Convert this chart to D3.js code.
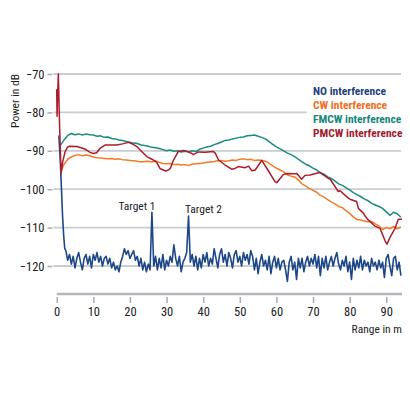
<!DOCTYPE html>
<html>
<head>
<meta charset="utf-8">
<script src="https://cdn.jsdelivr.net/npm/d3@7"></script>
<style>
html,body{margin:0;padding:0;background:#fff;}
svg{display:block;}
text{font-family:"Liberation Sans Narrow","Roboto Condensed","DejaVu Sans Condensed","Arial Narrow",sans-serif;}
</style>
</head>
<body>
<svg id="chart" width="410" height="410"></svg>
<script>
// ---------------- DATA ----------------
const seriesNames = ["NO interference", "CW interference", "FMCW interference", "PMCW interference"];
const xTicks = [0, 10, 20, 30, 40, 50, 60, 70, 80, 90];
const yTicks = [-70, -80, -90, -100, -110, -120];

// NO interference: initial fall-off (range m, dB)
const noHead = [[0.6, -86], [1.0, -93], [1.3, -100], [1.6, -107], [1.9, -112], [2.2, -115.5]];
// NO interference: noise floor sampled every 0.5 m starting at 2.5 m
const noStart = 2.5, noStep = 0.5;
const noValues = [
  -116, -118.5, -117, -119.5, -117.5, -120.5, -118, -116.5, -119, -121,
  -118, -117, -119.5, -117.5, -120.5, -117, -118.5, -116.5, -119, -117.5,
  -120, -118, -117.5, -119.5, -118, -120.5, -119, -121, -120, -121.5,
  -119, -117.5, -115.5, -117, -116, -118, -117, -116, -118.5, -117.5,
  -120, -118, -121, -119, -121.5, -119.5, -121, -106, -120, -117.5,
  -121, -118, -120.5, -117, -121, -118.5, -120, -117.5, -119, -114.5,
  -118, -120, -117.5, -121.5, -119, -118, -116.5, -107, -119, -117,
  -120, -117.5, -121, -118, -120.5, -117, -119, -116.5, -120, -118,
  -119.5, -115.5, -118, -120.5, -117, -115.5, -119, -117, -120, -116.5,
  -118, -120.5, -117, -116, -119, -117.5, -120, -116.5, -118.5, -117,
  -119.5, -116, -117.5, -121, -118, -122, -119, -117, -120, -118.5,
  -121, -117.5, -122, -119, -117.5, -120.5, -118, -121, -119, -118.5,
  -121, -124, -119, -117.5, -121, -119, -123.5, -118, -120.5, -118,
  -121.5, -119, -117.5, -120, -118, -119.5, -117, -120.5, -117.5, -122.5,
  -118, -120.5, -117.5, -121, -119, -117.5, -120, -118, -116.5, -119.5,
  -121, -118.5, -120, -117.5, -121.5, -119, -123.5, -118, -121, -118.5,
  -120.5, -117.5, -121, -118.5, -120, -119, -121.5, -118, -120, -119,
  -121, -118.5, -120.5, -119, -123, -118, -117, -120, -122.5, -118,
  -117.5, -121, -119, -122.5
];

// CW and FMCW: sampled every 1 m starting at 1 m
const cwStart = 1, fmStart = 1, gridStep = 1;
const cwValues = [
  -95.8, -93.5, -92.2, -91.6, -91.2, -91.0, -91.3, -91.1, -91.3, -91.6,
  -91.8, -91.9, -92.0, -92.1, -92.0, -92.2, -92.1, -92.3, -92.4, -92.5,
  -92.6, -92.7, -92.9, -92.8, -92.7, -92.9, -92.6, -93.0, -93.3, -93.4,
  -93.3, -93.6, -93.5, -93.7, -93.6, -93.8, -93.5, -93.4, -93.3, -93.2,
  -93.0, -92.9, -92.8, -92.6, -92.5, -92.7, -92.6, -92.4, -92.5, -92.2,
  -92.1, -92.3, -92.2, -92.5, -92.4, -92.5, -92.7, -93.3, -93.9, -94.5,
  -95.0, -95.5, -96.3, -96.6, -96.8, -97.6, -98.6, -99.2, -99.8, -100.3,
  -100.8, -101.6, -102.0, -102.7, -103.3, -103.8, -104.5, -104.8, -105.6, -106.3,
  -107.2, -107.9, -108.0, -108.3, -108.5, -108.4, -109.0, -109.6, -110.5, -110.0,
  -110.3, -109.7, -110.3, -109.8
];
const fmValues = [
  -88.6, -87.2, -86.0, -85.5, -85.8, -85.6, -85.9, -85.6, -85.8, -85.9,
  -86.2, -86.1, -86.5, -86.4, -86.8, -86.9, -87.2, -87.3, -87.6, -87.8,
  -88.0, -88.1, -88.5, -88.6, -88.8, -89.1, -89.2, -89.4, -89.7, -90.0,
  -89.8, -90.1, -90.0, -90.3, -90.1, -90.3, -90.0, -90.2, -89.6, -89.3,
  -89.0, -88.8, -88.4, -88.1, -87.7, -87.3, -87.2, -86.9, -86.7, -86.5,
  -86.4, -86.1, -86.0, -85.9, -86.2, -86.5, -86.9, -87.6, -88.3, -89.0,
  -89.5, -90.0, -90.6, -91.0, -91.5, -92.2, -92.9, -93.5, -93.9, -94.5,
  -95.0, -95.7, -96.1, -96.8, -97.2, -97.9, -98.6, -99.0, -99.6, -100.2,
  -100.9, -101.4, -101.9, -102.5, -103.0, -103.7, -104.1, -104.5, -105.0, -105.9,
  -106.8, -106.0, -106.4, -107.3
];

// PMCW interference: (range m, dB)
const pmcwPoints = [
  [0, -74], [0.1, -81], [0.2, -77], [0.45, -70], [0.6, -76], [0.8, -84], [1.0, -90], [1.2, -96],
  [1.6, -93], [2.3, -90.2], [3.0, -89], [3.6, -88.8], [5.5, -88.9], [7.3, -89.4], [8.2, -89.8],
  [9.1, -90.4], [10.0, -90.7], [10.9, -90.5], [11.8, -89.4], [13.2, -88.5], [15.5, -88.5],
  [16.4, -88.5], [18, -88.2], [19.6, -87.8], [20.9, -88.3], [21.9, -88.9], [22.8, -89.8],
  [24.6, -91.5], [26.4, -92.4], [27.3, -93], [28.2, -94.6], [29.1, -95], [29.8, -95.3],
  [30.5, -95], [31.0, -94.6], [31.9, -92.4], [33.2, -90.2], [34.6, -89.9], [35.5, -90.1],
  [36.9, -90.7], [37.3, -91], [38.7, -90.3], [40.5, -90.4], [42.8, -90.2], [43.3, -90.6],
  [44.2, -92.4], [46, -93.7], [47.8, -94.8], [48.7, -94.6], [49.6, -94.1], [51.4, -94.4],
  [52.4, -94], [53.3, -95.2], [54.2, -95], [55.3, -93.5], [56, -92.5], [57.8, -95.2],
  [59.6, -98], [60.1, -98.3], [61, -97.2], [61.9, -96.2], [62.8, -95.9], [65.1, -96],
  [65.6, -95.9], [66.9, -97.4], [67.8, -96.4], [69.2, -96.3], [71.5, -95.7], [71.9, -95.7],
  [74.2, -97.2], [74.7, -97.4], [76.9, -100.6], [77.4, -100.4], [79.7, -102.4], [80.1, -102.6],
  [81.9, -103.2], [82.4, -105], [83.8, -106.3], [84.2, -107], [85.1, -108], [86.9, -109.6],
  [88.3, -110.2], [89.7, -113.5], [90.2, -114.3], [91.1, -112.4], [92.4, -110.2],
  [93.3, -107.8], [94.3, -107.8]
];

const targetNames = ["Target 1", "Target 2"];
const targetRanges = [26.0, 36.0];

// ---------------- BUILD ----------------
const noPoints = noHead.concat(noValues.map((v, i) => [noStart + i * noStep, v]));
const cwPoints = cwValues.map((v, i) => [cwStart + i * gridStep, v]);
const fmPoints = fmValues.map((v, i) => [fmStart + i * gridStep, v]);

const colors = {
  no: "#1d4787", cw: "#f47a28", fm: "#1a8c7d", pm: "#ad1c2c"
};
const legendColors = ["#1f3f7c", "#f26b21", "#16877a", "#a3192f"];
const FONT = '"Liberation Sans Narrow","Roboto Condensed","DejaVu Sans Condensed",sans-serif';

const svg = d3.select("#chart");
const x = d3.scaleLinear().domain([0, 94.3]).range([56.7, 402]);
const y = d3.scaleLinear().domain([-70, -120]).range([74, 266]);

// gridlines
svg.append("g").selectAll("line").data(yTicks).join("line")
  .attr("x1", 53.5).attr("x2", 401)
  .attr("y1", d => y(d)).attr("y2", d => y(d))
  .attr("stroke", "#c9ccd0").attr("stroke-width", 1.8);

// y axis ticks + labels
const yAxis = d3.axisLeft(y).tickValues(yTicks).tickSize(5).tickPadding(3)
  .tickFormat(d => "\u2212" + Math.abs(d));
const gy = svg.append("g").attr("transform", "translate(52.5,0)").call(yAxis);
gy.select(".domain").remove();
gy.selectAll(".tick line").attr("stroke", "#a9adb2").attr("stroke-width", 1.5);
gy.selectAll(".tick text").attr("fill", "#222").attr("font-size", 12.5).style("font-family", FONT);

// x axis
const xAxis = d3.axisBottom(x).tickValues(xTicks).tickSize(6).tickPadding(4);
const gx = svg.append("g").attr("transform", "translate(0,297)").call(xAxis);
gx.select(".domain").remove();
gx.selectAll(".tick line").attr("stroke", "#a9adb2").attr("stroke-width", 1.5);
gx.selectAll(".tick text").attr("fill", "#222").attr("font-size", 12.5).style("font-family", FONT);
svg.append("line").attr("x1", x(0)).attr("x2", 402).attr("y1", 294).attr("y2", 294)
  .attr("stroke", "#b3b6ba").attr("stroke-width", 2.6);

// axis titles
svg.append("text").attr("transform", "translate(19,74) rotate(-90)")
  .attr("text-anchor", "end").attr("font-size", 11.5).attr("fill", "#222").text("Power in dB");
svg.append("text").attr("x", 402).attr("y", 333)
  .attr("text-anchor", "end").attr("font-size", 11.5).attr("fill", "#222").text("Range in m");

// lines
const line = d3.line().x(d => x(d[0])).y(d => y(d[1]));
const draw = (pts, col, w) => svg.append("path").datum(pts).attr("d", line)
  .attr("fill", "none").attr("stroke", col).attr("stroke-width", w).attr("stroke-linejoin", "round");
draw(noPoints, colors.no, 1.6);
draw(cwPoints, colors.cw, 1.5);
draw(fmPoints, colors.fm, 1.5);
draw(pmcwPoints, colors.pm, 1.5);

// target labels
svg.append("text").attr("x", x(targetRanges[0]) - 15).attr("y", 209.5)
  .attr("text-anchor", "middle").attr("font-size", 11.5).attr("fill", "#222").text(targetNames[0]);
svg.append("text").attr("x", x(targetRanges[1]) + 15).attr("y", 212.5)
  .attr("text-anchor", "middle").attr("font-size", 11.5).attr("fill", "#222").text(targetNames[1]);

// legend
svg.append("rect").attr("x", 307).attr("y", 82).attr("width", 100).attr("height", 58).attr("fill", "#fff");
const lg = svg.append("g");
seriesNames.forEach((n, i) => {
  lg.append("text").attr("x", 313).attr("y", 95 + i * 14)
    .attr("font-size", 11.5).attr("font-weight", "bold").attr("fill", legendColors[i]).text(n);
});
</script>
</body>
</html>
